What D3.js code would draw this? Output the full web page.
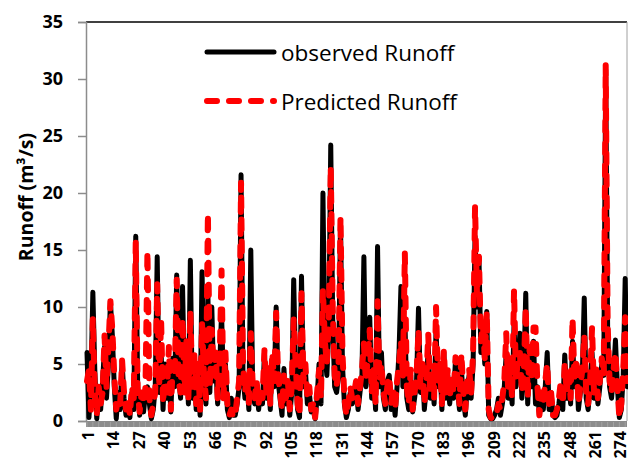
<!DOCTYPE html>
<html>
<head>
<meta charset="utf-8">
<script src="https://cdn.jsdelivr.net/npm/d3@7"></script>
<style>
  html, body { margin: 0; padding: 0; background: #fff; }
  svg { display: block; }
</style>
</head>
<body>
<svg id="chart" width="628" height="463"></svg>
<script>
// Daily runoff, observed vs. model prediction (m³/s)
const observed = [
  6.0, 0.3, 3.0, 11.3, 4.5, 0.2, 2.5, 1.0, 3.5, 6.5,
  2.0, 5.0, 10.5, 7.5, 3.0, 0.2, 2.5, 1.0, 5.2, 2.0,
  0.5, 1.5, 0.3, 2.5, 1.0, 16.2, 3.0, 0.5, 2.0, 0.8,
  2.5, 3.0, 1.5, 0.2, 1.0, 3.0, 14.4, 2.5, 6.0, 1.0,
  5.0, 2.0, 4.5, 0.8, 5.5, 3.0, 12.8, 4.0, 2.0, 11.8,
  3.0, 6.0, 1.5, 14.1, 2.0, 5.5, 1.0, 4.0, 0.5, 13.1,
  3.0, 1.5, 11.0, 2.5, 10.0, 3.5, 5.0, 1.5, 4.5, 9.5,
  3.0, 5.0, 1.0, 0.3, 2.0, 0.5, 0.5, 1.5, 3.0, 21.6,
  4.0, 2.0, 3.5, 1.0, 15.0, 2.5, 1.5, 3.0, 1.0, 2.5,
  1.5, 6.0, 2.0, 4.0, 1.0, 5.5, 3.0, 10.0, 3.5, 2.0,
  0.5, 4.6, 1.5, 3.0, 0.5, 2.5, 12.4, 4.0, 1.0, 0.3,
  12.7, 3.0, 4.5, 1.5, 2.5, 0.8, 1.0, 0.2, 2.0, 5.0,
  1.5, 20.0, 6.0, 4.0, 8.0, 24.2, 9.0, 3.0, 2.5, 4.0,
  17.5, 5.0, 1.5, 0.3, 1.0, 2.5, 1.5, 2.0, 3.0, 1.0,
  2.5, 4.0, 14.4, 3.0, 5.0, 9.1, 2.0, 4.0, 1.0, 15.3,
  3.0, 6.0, 2.0, 1.0, 3.5, 4.0, 1.0, 2.5, 0.5, 3.0,
  6.0, 11.8, 3.0, 9.0, 2.0, 1.0, 4.0, 0.8, 2.0, 3.5,
  9.9, 2.5, 5.0, 1.0, 3.0, 6.5, 2.0, 4.0, 1.5, 8.0,
  3.0, 5.0, 1.0, 6.0, 2.0, 4.0, 1.5, 3.5, 2.0, 5.5,
  3.0, 1.0, 4.5, 2.0, 0.5, 3.0, 4.0, 2.0, 5.0, 16.2,
  10.0, 14.4, 6.0, 8.0, 5.0, 9.6, 0.5, 0.2, 0.2, 0.5,
  1.0, 2.0, 0.5, 1.5, 3.0, 6.0, 2.0, 4.0, 1.5, 8.5,
  3.0, 5.0, 7.7, 2.0, 4.0, 11.2, 1.5, 6.0, 3.0, 7.0,
  1.5, 3.0, 0.5, 2.0, 1.0, 3.0, 6.0, 1.0, 2.5, 0.5,
  0.3, 0.5, 1.5, 3.0, 1.0, 5.8, 2.0, 4.0, 1.5, 7.0,
  3.0, 5.0, 1.0, 2.5, 4.0, 10.8, 2.0, 1.0, 3.0, 6.0,
  2.0, 4.5, 1.5, 3.0, 5.0, 4.0, 30.8, 8.0, 3.0, 2.0,
  4.0, 7.1, 3.0, 0.3, 1.0, 4.0, 12.5, 3.0
];

const predicted = [
  3.5, 4.5, 1.0, 9.0, 2.5, 0.5, 3.0, 1.5, 2.5, 7.5,
  3.0, 6.5, 10.5, 8.0, 4.0, 1.0, 2.0, 1.5, 5.3, 2.5,
  1.0, 2.0, 0.5, 3.0, 2.0, 15.8, 2.5, 0.8, 2.5, 1.5,
  3.0, 14.9, 2.0, 0.5, 1.5, 2.5, 12.0, 3.0, 8.9, 1.5,
  4.5, 2.5, 6.5, 1.0, 5.0, 4.0, 12.4, 3.5, 2.5, 9.0,
  2.5, 7.0, 2.0, 9.6, 3.0, 6.0, 1.5, 5.0, 1.0, 8.5,
  4.0, 2.0, 18.2, 3.0, 8.0, 4.0, 6.0, 2.0, 5.0, 13.2,
  2.0, 6.0, 1.5, 0.5, 1.0, 0.3, 0.5, 2.0, 3.5, 20.9,
  5.0, 2.5, 4.0, 1.5, 7.7, 3.0, 2.0, 3.5, 1.5, 3.0,
  2.0, 6.2, 2.5, 5.0, 1.5, 6.0, 3.5, 9.5, 4.0, 2.5,
  1.0, 4.0, 2.0, 3.5, 1.0, 3.0, 8.9, 5.0, 1.5, 0.5,
  11.2, 3.5, 5.0, 2.0, 3.0, 1.0, 1.5, 0.3, 2.5, 4.5,
  2.0, 11.5, 7.0, 5.0, 9.0, 22.3, 10.0, 4.0, 3.0, 5.0,
  17.9, 6.0, 2.0, 0.5, 1.5, 3.0, 2.0, 2.5, 3.5, 1.5,
  3.0, 4.5, 6.8, 3.5, 5.5, 8.0, 2.5, 4.5, 1.5, 10.5,
  3.5, 5.0, 2.5, 1.5, 3.0, 3.9, 1.5, 3.0, 1.0, 3.5,
  5.0, 7.0, 4.0, 14.7, 3.0, 1.5, 4.5, 1.0, 2.5, 4.0,
  8.0, 3.0, 5.5, 1.5, 3.5, 7.6, 2.5, 4.5, 2.0, 10.0,
  3.5, 5.0, 1.5, 6.2, 2.5, 4.5, 2.0, 4.0, 2.5, 5.6,
  3.5, 1.5, 5.9, 2.5, 1.0, 3.5, 4.5, 2.5, 6.0, 18.8,
  11.0, 14.4, 7.0, 8.5, 5.5, 9.6, 1.0, 0.3, 0.2, 0.3,
  0.5, 1.5, 1.0, 2.0, 3.5, 7.7, 2.5, 5.0, 2.0, 11.5,
  3.5, 5.5, 6.0, 2.5, 4.5, 10.0, 2.0, 6.5, 3.5, 8.2,
  8.2, 3.0, 0.5, 2.5, 1.5, 3.5, 5.0, 1.5, 2.5, 0.5,
  0.5, 1.0, 2.0, 3.5, 1.5, 5.0, 2.5, 4.5, 2.0, 9.0,
  3.5, 5.5, 1.5, 3.0, 4.5, 7.5, 2.5, 1.5, 3.5, 8.2,
  2.5, 5.0, 2.0, 3.5, 5.5, 4.0, 31.2, 8.5, 3.5, 2.5,
  4.5, 6.0, 3.0, 0.3, 1.5, 4.5, 9.1, 3.5
];

const days = observed.map((_, i) => i + 1);
const xTickLabels = d3.range(1, 275, 13);          // 1, 14, 27, ... 274
const yTickValues = [0, 5, 10, 15, 20, 25, 30, 35];
const seriesNames = ["observed Runoff", "Predicted Runoff"];

const svg = d3.select("#chart");
const plot = { left: 86, right: 627, top: 22, bottom: 421 };
const boldFont = "'Open Sans', 'Liberation Sans', sans-serif";

const x = d3.scaleLinear()
  .domain([1, days.length])
  .range([plot.left + 1, plot.left + 1 + (days.length - 1) * 1.95]);
const y = d3.scaleLinear().domain([0, 35]).range([plot.bottom, plot.top]);

// plot frame: black top edge, grey right edge
svg.append("line")
  .attr("x1", plot.left).attr("x2", plot.right)
  .attr("y1", plot.top).attr("y2", plot.top)
  .attr("stroke", "#000").attr("stroke-width", 1.5);
svg.append("line")
  .attr("x1", plot.right).attr("x2", plot.right)
  .attr("y1", plot.top).attr("y2", plot.bottom)
  .attr("stroke", "#a0a0a0").attr("stroke-width", 1);

// y axis
const yAxis = d3.axisLeft(y).tickValues(yTickValues).tickSize(8).tickPadding(15);
const gy = svg.append("g")
  .attr("transform", `translate(${plot.left},0)`)
  .call(yAxis);
gy.select(".domain").attr("stroke", "#8c8c8c").attr("stroke-width", 1.5);
gy.selectAll(".tick line").attr("stroke", "#8c8c8c").attr("stroke-width", 1.5);
gy.selectAll(".tick text")
  .attr("fill", "#000")
  .style("font-family", boldFont)
  .style("font-weight", "bold")
  .style("font-size", "18px");

svg.append("text")
  .attr("transform", "translate(25,197) rotate(-90)")
  .attr("text-anchor", "middle")
  .attr("dominant-baseline", "central")
  .style("font-family", boldFont)
  .style("font-weight", "bold")
  .style("font-size", "19.5px")
  .text("Runoff (m³/s)");

// x axis band with category ticks
svg.append("rect")
  .attr("x", plot.left).attr("y", plot.bottom)
  .attr("width", plot.right - plot.left).attr("height", 6)
  .attr("fill", "#8c8c8c");
svg.append("g")
  .selectAll("line")
  .data(d3.range(1, days.length + 1, 3))
  .join("line")
  .attr("x1", d => x(d)).attr("x2", d => x(d))
  .attr("y1", plot.bottom + 1).attr("y2", plot.bottom + 6)
  .attr("stroke", "#a8a8a8").attr("stroke-width", 0.8);

const xAxis = d3.axisBottom(x).tickValues(xTickLabels).tickSize(0).tickFormat(d3.format("d"));
const gx = svg.append("g")
  .attr("transform", `translate(0,${plot.bottom})`)
  .call(xAxis);
gx.select(".domain").remove();
gx.selectAll(".tick text")
  .attr("transform", "translate(1,0) rotate(-90)")
  .attr("x", -10).attr("y", 0)
  .attr("dy", "0.35em")
  .attr("text-anchor", "end")
  .attr("fill", "#000")
  .style("font-family", boldFont)
  .style("font-weight", "bold")
  .style("font-size", "16px");

// series
const line = d3.line().x((d, i) => x(i + 1)).y(d => y(d)).curve(d3.curveLinear);

svg.append("path")
  .datum(observed)
  .attr("d", line)
  .attr("fill", "none")
  .attr("stroke", "#000")
  .attr("stroke-width", 5)
  .attr("stroke-linejoin", "round")
  .attr("stroke-linecap", "round");

svg.append("path")
  .datum(predicted)
  .attr("d", line)
  .attr("fill", "none")
  .attr("stroke", "#ff0000")
  .attr("stroke-width", 6)
  .attr("stroke-dasharray", "10,12")
  .attr("stroke-linejoin", "round")
  .attr("stroke-linecap", "round");

// legend
const legend = svg.append("g");
const legendItems = [
  { name: seriesNames[0], color: "#000", dash: null, width: 5, y: 52 },
  { name: seriesNames[1], color: "#ff0000", dash: "10,12", width: 6, y: 101 }
];
legendItems.forEach(it => {
  legend.append("line")
    .attr("x1", 207).attr("x2", 274)
    .attr("y1", it.y).attr("y2", it.y)
    .attr("stroke", it.color)
    .attr("stroke-width", it.width)
    .attr("stroke-dasharray", it.dash)
    .attr("stroke-linecap", "round");
  legend.append("text")
    .attr("x", 281).attr("y", it.y)
    .attr("dominant-baseline", "central")
    .style("font-family", "'Open Sans', Lato, sans-serif")
    .style("font-size", "22.5px")
    .text(it.name);
});
</script>
</body>
</html>
